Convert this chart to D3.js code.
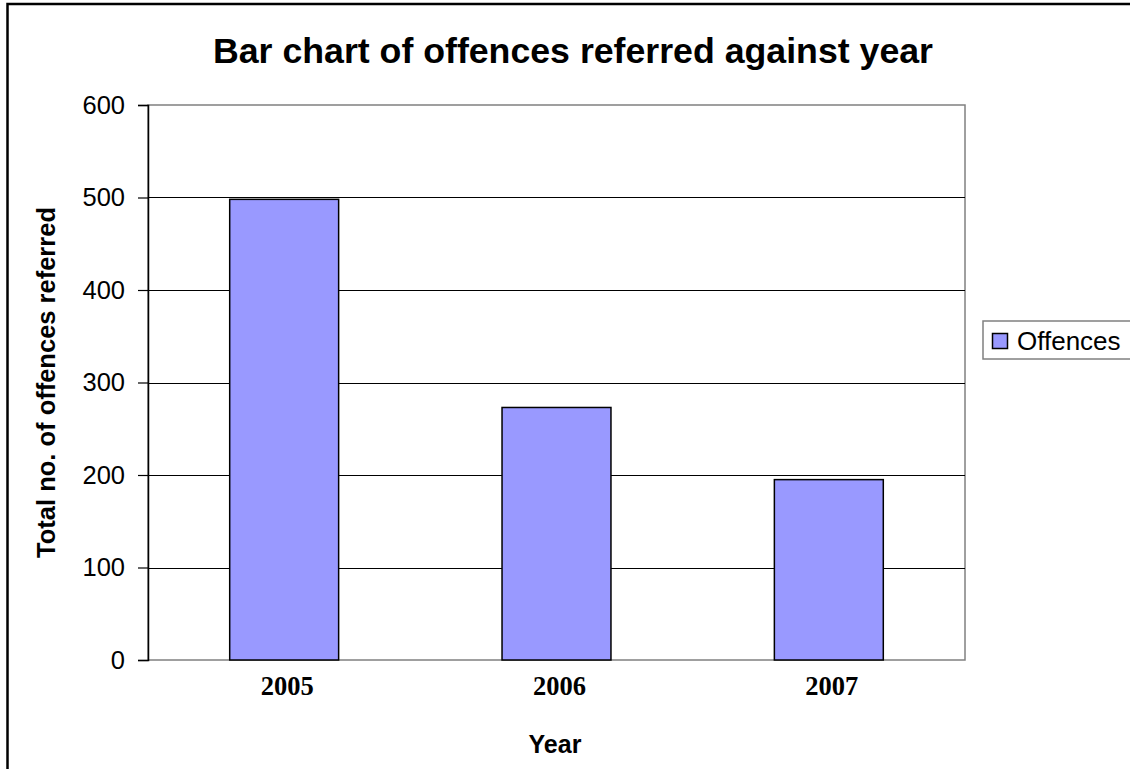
<!DOCTYPE html>
<html>
<head>
<meta charset="utf-8">
<script src="https://cdn.jsdelivr.net/npm/d3@7"></script>
<style>
  html, body { margin: 0; padding: 0; background: #fff; }
  svg { display: block; }
</style>
</head>
<body>
<script>
const categories = ["2005", "2006", "2007"];
const offences = [498, 273, 195];
const yTicks = [0, 100, 200, 300, 400, 500, 600];
const seriesName = "Offences";
const titleText = "Bar chart of offences referred against year";
const xTitle = "Year";
const yTitle = "Total no. of offences referred";

const W = 1130, H = 769;
const plot = { left: 148, top: 105, right: 965, bottom: 660 };
const sans = "'Liberation Sans', Arial, Helvetica, sans-serif";
const serif = "'Liberation Serif', 'Times New Roman', serif";

const svg = d3.select("body").append("svg").attr("width", W).attr("height", H);

// outer chart frame (extends beyond the visible window on right/bottom)
svg.append("rect")
  .attr("x", 7.5).attr("y", 4)
  .attr("width", 1300).attr("height", 1000)
  .attr("fill", "#fff").attr("stroke", "#000").attr("stroke-width", 2.5);

const x = d3.scaleBand().domain(categories)
  .range([plot.left, plot.right]).paddingInner(0.6).paddingOuter(0.3);
const y = d3.scaleLinear().domain([0, 600]).range([plot.bottom, plot.top]);

// plot area background
svg.append("rect")
  .attr("x", plot.left).attr("y", plot.top)
  .attr("width", plot.right - plot.left).attr("height", plot.bottom - plot.top)
  .attr("fill", "#fff").attr("stroke", "#808080").attr("stroke-width", 1.5);

// gridlines
svg.append("g").selectAll("line")
  .data(yTicks.filter(t => t > 0 && t < 600))
  .join("line")
  .attr("x1", plot.left).attr("x2", plot.right)
  .attr("y1", d => Math.round(y(d)) + 0.5).attr("y2", d => Math.round(y(d)) + 0.5)
  .attr("stroke", "#000").attr("stroke-width", 1);

// bars
svg.append("g").selectAll("rect")
  .data(offences)
  .join("rect")
  .attr("x", (d, i) => x(categories[i]))
  .attr("y", d => y(d))
  .attr("width", x.bandwidth())
  .attr("height", d => y(0) - y(d))
  .attr("fill", "#9999FF").attr("stroke", "#000").attr("stroke-width", 1.5);

// y axis
const yAxis = d3.axisLeft(y).tickValues(yTicks).tickSize(10).tickPadding(13).tickFormat(d3.format("d"));
const gy = svg.append("g").attr("transform", `translate(${plot.left},0)`).call(yAxis);
gy.select(".domain").attr("stroke", "#000").attr("stroke-width", 1.5);
gy.selectAll(".tick line").attr("stroke", "#000").attr("stroke-width", 1.2);
gy.selectAll(".tick text").attr("font-family", sans).attr("font-size", 25.5).attr("fill", "#000");

// x axis
const xAxis = d3.axisBottom(x).tickSize(0).tickPadding(16);
const gx = svg.append("g").attr("transform", `translate(0,${plot.bottom})`).call(xAxis);
gx.select(".domain").remove();
gx.selectAll(".tick text")
  .attr("font-family", serif).attr("font-size", 26.5).attr("font-weight", "bold")
  .attr("fill", "#000").attr("dx", 3);

// title
svg.append("text")
  .attr("x", 573).attr("y", 63).attr("text-anchor", "middle")
  .attr("font-family", sans).attr("font-size", 35.7).attr("font-weight", "bold")
  .text(titleText);

// axis titles
svg.append("text")
  .attr("x", 555).attr("y", 753).attr("text-anchor", "middle")
  .attr("font-family", sans).attr("font-size", 25).attr("font-weight", "bold")
  .text(xTitle);

svg.append("text")
  .attr("transform", `translate(55,${(plot.top + plot.bottom) / 2}) rotate(-90)`)
  .attr("text-anchor", "middle")
  .attr("font-family", sans).attr("font-size", 25.5).attr("font-weight", "bold")
  .text(yTitle);

// legend
const lg = svg.append("g").attr("transform", "translate(983,321)");
lg.append("rect").attr("x", 0).attr("y", 0).attr("width", 150).attr("height", 38)
  .attr("fill", "#fff").attr("stroke", "#808080").attr("stroke-width", 1.5);
lg.append("rect").attr("x", 9.5).attr("y", 12.5).attr("width", 15).attr("height", 15)
  .attr("fill", "#9999FF").attr("stroke", "#000").attr("stroke-width", 1.5);
lg.append("text").attr("x", 34).attr("y", 29)
  .attr("font-family", sans).attr("font-size", 26).text(seriesName);
</script>
</body>
</html>
